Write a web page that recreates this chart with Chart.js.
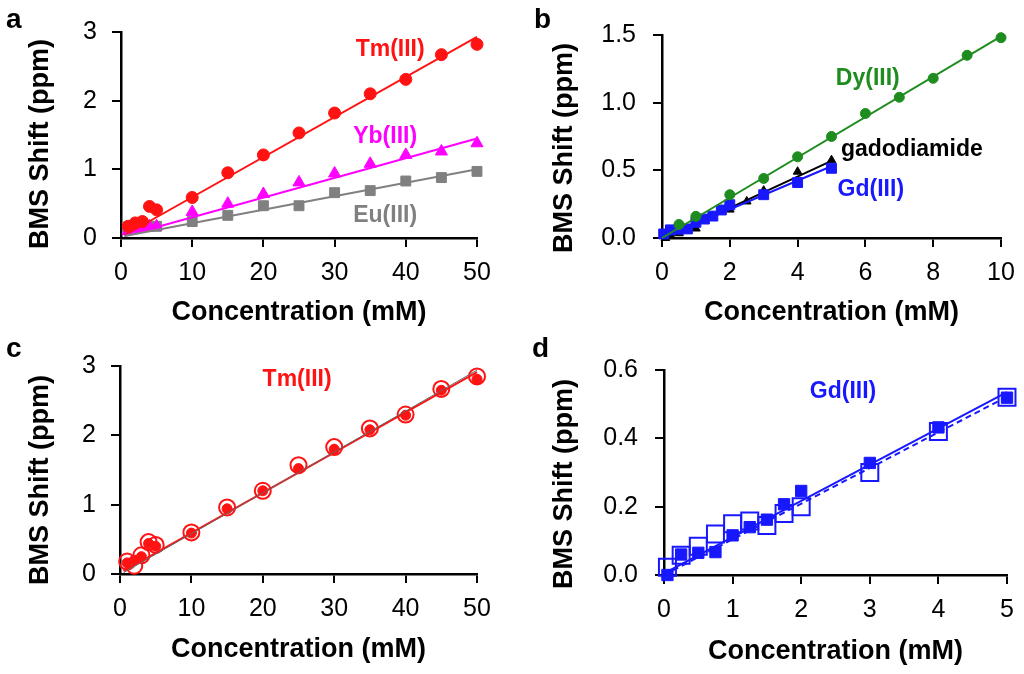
<!DOCTYPE html>
<html>
<head>
<meta charset="utf-8">
<script src="https://cdn.jsdelivr.net/npm/chart.js@4.4.1/dist/chart.umd.min.js"></script>
<style>
  body { margin: 0; background: #fff; width: 1024px; height: 674px; position: relative; overflow: hidden; }
  canvas { position: absolute; }
</style>
</head>
<body>
<canvas id="pa" width="512" height="337" style="left:0;top:0"></canvas>
<canvas id="pb" width="512" height="337" style="left:512px;top:0"></canvas>
<canvas id="pc" width="512" height="337" style="left:0;top:337px"></canvas>
<canvas id="pd" width="512" height="337" style="left:512px;top:337px"></canvas>
<script>
// ---- panel a : three lanthanides, 0-50 mM
var concA = [1, 2, 3, 4, 5, 10, 15, 20, 25, 30, 35, 40, 45, 50];
var tmA = [0.17, 0.22, 0.24, 0.46, 0.41, 0.59, 0.95, 1.21, 1.53, 1.82, 2.10, 2.31, 2.67, 2.82];
var ybA = [0.10, 0.14, 0.15, 0.17, 0.17, 0.38, 0.50, 0.64, 0.81, 0.94, 1.08, 1.21, 1.26, 1.38];
var euA = [0.16, 0.18, 0.18, 0.17, 0.17, 0.24, 0.33, 0.47, 0.47, 0.66, 0.69, 0.83, 0.88, 0.97];
var fitXA = [0.5, 50];
var tmFitA = [0.04, 2.93];
var ybFitA = [0.03, 1.45];
var euFitA = [0.03, 1.00];
var xTicksA = [0, 10, 20, 30, 40, 50];
var yTicksA = [0, 1, 2, 3];

// ---- panel b : Dy, gadodiamide, Gd, 0-10 mM
var concDyB = [0.5, 1, 2, 3, 4, 5, 6, 7, 8, 9, 10];
var dyB = [0.10, 0.16, 0.32, 0.44, 0.60, 0.75, 0.92, 1.04, 1.18, 1.35, 1.48];
var concGdoB = [0.1, 0.25, 0.5, 1, 1.5, 2, 2.5, 3, 4, 5];
var gdoB = [0.0, 0.02, 0.035, 0.07, 0.16, 0.21, 0.27, 0.35, 0.49, 0.575];
var concGdB = [0.05, 0.25, 0.5, 0.75, 1, 1.25, 1.5, 1.75, 2, 3, 4, 5];
var gdB = [0.03, 0.06, 0.065, 0.067, 0.116, 0.14, 0.162, 0.207, 0.246, 0.32, 0.41, 0.515];
var dyFitX = [0, 10];
var dyFit = [0.0, 1.49];
var gdFitX = [0, 5];
var gdoFit = [-0.01, 0.57];
var gdFit = [0.0, 0.53];
var xTicksB = [0, 2, 4, 6, 8, 10];
var yTicksB = [0, 0.5, 1.0, 1.5];

// ---- panel c : Tm(III), two measurements
var concC = [1, 2, 3, 4, 5, 10, 15, 20, 25, 30, 35, 40, 45, 50];
var tmOpenC = [0.18, 0.12, 0.27, 0.46, 0.42, 0.60, 0.96, 1.20, 1.57, 1.83, 2.10, 2.30, 2.67, 2.85];
var tmFillC = [0.16, 0.20, 0.25, 0.44, 0.40, 0.59, 0.94, 1.20, 1.52, 1.80, 2.08, 2.29, 2.65, 2.81];
var fitXC = [0.5, 50];
var tmFitRedC = [0.04, 2.91];
var tmFitGrayC = [0.02, 2.94];
var xTicksC = [0, 10, 20, 30, 40, 50];
var yTicksC = [0, 1, 2, 3];

// ---- panel d : Gd(III), two measurements
var concD = [0.05, 0.25, 0.5, 0.75, 1, 1.25, 1.5, 1.75, 2, 3, 4, 5];
var gdOpenD = [0.023, 0.058, 0.084, 0.12, 0.15, 0.158, 0.145, 0.18, 0.20, 0.30, 0.42, 0.52];
var gdFillD = [0.0, 0.06, 0.065, 0.067, 0.116, 0.14, 0.162, 0.207, 0.246, 0.328, 0.432, 0.519];
var fitXD = [0, 5];
var gdFitSolidD = [0.005, 0.535];
var gdFitDashD = [0.0, 0.522];
var xTicksD = [0, 1, 2, 3, 4, 5];
var yTicksD = [0, 0.2, 0.4, 0.6];

var FONT = '"Liberation Sans", Arial, Helvetica, sans-serif';
var RED = '#ff1212', MAGENTA = '#ff00ff', GRAY = '#808080', GREEN = '#1e8c1e', BLUE = '#1818ff';

function pts(xs, ys) {
    return xs.map(function (x, i) { return { x: x, y: ys[i] }; });
}

function marks(xs, ys, color, style, r, hollow) {
    return {
        data: pts(xs, ys), showLine: false, clip: false,
        pointStyle: style, pointRadius: r,
        pointBackgroundColor: hollow ? 'rgba(0,0,0,0)' : color,
        pointBorderColor: color, pointBorderWidth: hollow ? 2 : 1
    };
}

function fit(xs, ys, color, width, dash) {
    return {
        data: pts(xs, ys), showLine: true, clip: false, pointRadius: 0,
        borderColor: color, borderWidth: width, borderDash: dash || []
    };
}

function makePanel(id, p) {
    var labelPlugin = {
        id: 'panelText',
        afterDatasetsDraw: function (chart) {
            var ctx = chart.ctx, xs = chart.scales.x, ys = chart.scales.y;
            ctx.save();
            ctx.font = 'bold 23px ' + FONT;
            ctx.textAlign = 'center';
            ctx.textBaseline = 'middle';
            p.labels.forEach(function (l) {
                ctx.fillStyle = l.color;
                ctx.fillText(l.text, xs.getPixelForValue(l.x), ys.getPixelForValue(l.y));
            });
            // y axis title, placed by hand (the figure sets it a bit below centre)
            ctx.fillStyle = '#000';
            ctx.font = 'bold 27px ' + FONT;
            ctx.translate(p.yTitle[0], p.yTitle[1]);
            ctx.rotate(-Math.PI / 2);
            ctx.fillText('BMS Shift (ppm)', 0, 0);
            ctx.setTransform(1, 0, 0, 1, 0, 0);
            ctx.font = 'bold 28px ' + FONT;
            ctx.textAlign = 'left';
            ctx.textBaseline = 'alphabetic';
            ctx.fillText(p.letter[0], p.letter[1], p.letter[2]);
            ctx.restore();
        }
    };

    new Chart(document.getElementById(id).getContext('2d'), {
        type: 'scatter',
        data: { datasets: p.datasets },
        options: {
            responsive: false,
            animation: false,
            devicePixelRatio: 1,
            events: [],
            layout: { padding: { left: 0, top: p.area.top, right: 512 - p.area.right, bottom: 0 } },
            plugins: { legend: { display: false }, tooltip: { enabled: false } },
            scales: {
                x: {
                    type: 'linear', min: p.xTicks[0], max: p.xTicks[p.xTicks.length - 1],
                    afterBuildTicks: function (s) { s.ticks = p.xTicks.map(function (v) { return { value: v }; }); },
                    afterFit: function (s) { s.height = 337 - p.area.bottom; s.paddingLeft = 0; s.paddingRight = 0; },
                    border: { display: true, color: '#000', width: 2.5 },
                    grid: { display: true, drawOnChartArea: false, drawTicks: true, tickLength: 9, lineWidth: 2, color: '#000' },
                    ticks: { color: '#000', font: { family: FONT, size: 25 }, padding: 11, maxRotation: 0, autoSkip: false,
                        callback: function (v) { return String(v); } },
                    title: { display: true, text: 'Concentration (mM)', color: '#000',
                        font: { family: FONT, size: 27, weight: 'bold' }, padding: { top: 0, bottom: p.xTitlePad } }
                },
                y: {
                    type: 'linear', min: p.yTicks[0], max: p.yTicks[p.yTicks.length - 1],
                    afterBuildTicks: function (s) { s.ticks = p.yTicks.map(function (v) { return { value: v }; }); },
                    afterFit: function (s) { s.width = p.area.left; s.paddingTop = 0; s.paddingBottom = 0; },
                    border: { display: true, color: '#000', width: 2.5 },
                    grid: { display: true, drawOnChartArea: false, drawTicks: true, tickLength: 9, lineWidth: 2, color: '#000' },
                    ticks: { color: '#000', font: { family: FONT, size: 25 }, padding: p.yTickPad, autoSkip: false,
                        callback: function (v) { return v.toFixed(p.yDigits); } },
                    title: { display: false }
                }
            }
        },
        plugins: [labelPlugin]
    });
}

makePanel('pa', {
    area: { left: 121, top: 32, right: 477, bottom: 238 },
    xTicks: xTicksA, yTicks: yTicksA, yDigits: 0, yTickPad: 15, xTitlePad: 8,
    yTitle: [41, 144],
    letter: ['a', 6, 28],
    labels: [
        { text: 'Tm(III)', x: 37.8, y: 2.75, color: RED },
        { text: 'Yb(III)', x: 37.1, y: 1.47, color: MAGENTA },
        { text: 'Eu(III)', x: 37.1, y: 0.33, color: GRAY }
    ],
    datasets: [
        fit(fitXA, euFitA, GRAY, 2),
        fit(fitXA, ybFitA, MAGENTA, 2),
        fit(fitXA, tmFitA, RED, 2),
        marks(concA, tmA, RED, 'circle', 6),
        marks(concA, ybA, MAGENTA, 'triangle', 7),
        marks(concA, euA, GRAY, 'rect', 7)
    ]
});

makePanel('pb', {
    area: { left: 150, top: 35, right: 489, bottom: 238 },
    xTicks: xTicksB, yTicks: yTicksB, yDigits: 1, yTickPad: 17, xTitlePad: 8,
    yTitle: [53, 148],
    letter: ['b', 22, 28],
    labels: [
        { text: 'Dy(III)', x: 6.07, y: 1.18, color: GREEN },
        { text: 'gadodiamide', x: 7.37, y: 0.65, color: '#000' },
        { text: 'Gd(III)', x: 6.16, y: 0.36, color: BLUE }
    ],
    datasets: [
        fit(dyFitX, dyFit, GREEN, 2),
        marks(concDyB, dyB, GREEN, 'circle', 5),
        marks(concGdB, gdB, BLUE, 'rect', 7),
        fit(gdFitX, gdFit, BLUE, 2),
        marks(concGdoB, gdoB, '#000', 'triangle', 5),
        fit(gdFitX, gdoFit, '#000', 2)
    ]
});

makePanel('pc', {
    area: { left: 120, top: 29, right: 477, bottom: 237 },
    xTicks: xTicksC, yTicks: yTicksC, yDigits: 0, yTickPad: 15, xTitlePad: 8,
    yTitle: [41, 143],
    letter: ['c', 6, 20],
    labels: [
        { text: 'Tm(III)', x: 24.8, y: 2.80, color: RED }
    ],
    datasets: [
        fit(fitXC, tmFitGrayC, '#666', 1),
        fit(fitXC, tmFitRedC, RED, 2),
        marks(concC, tmFillC, RED, 'circle', 5),
        marks(concC, tmOpenC, RED, 'circle', 8, true)
    ]
});

makePanel('pd', {
    area: { left: 152, top: 33, right: 495, bottom: 238 },
    xTicks: xTicksD, yTicks: yTicksD, yDigits: 1, yTickPad: 17, xTitlePad: 6,
    yTitle: [53, 147],
    letter: ['d', 20, 20],
    labels: [
        { text: 'Gd(III)', x: 2.61, y: 0.536, color: BLUE }
    ],
    datasets: [
        fit(fitXD, gdFitDashD, BLUE, 2, [6, 4]),
        fit(fitXD, gdFitSolidD, BLUE, 2),
        marks(concD, gdFillD, BLUE, 'rect', 8),
        marks(concD, gdOpenD, BLUE, 'rect', 12, true)
    ]
});
</script>
</body>
</html>
